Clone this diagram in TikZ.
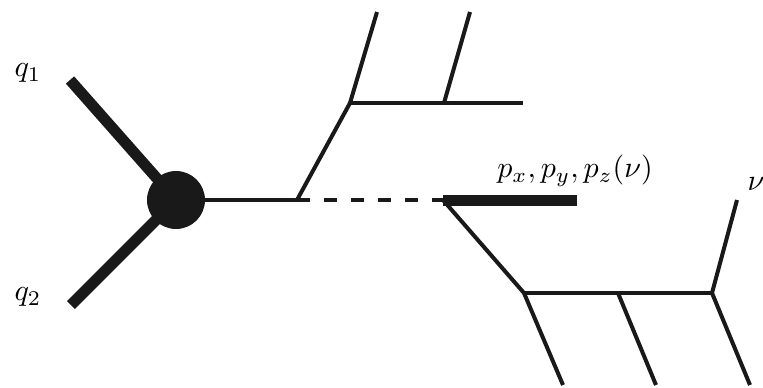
\documentclass[tikz,border=0pt]{standalone}
\begin{document}
\begin{tikzpicture}[x=1pt,y=-1pt,
  thin line/.style={line width=4pt, black!90},
  thick line/.style={line width=11pt, black!90},
  lbl/.style={inner sep=0pt, scale=3}]
\useasboundingbox (0,0) rectangle (763,388);
% coordinates
\node[circle, fill=black!90, minimum size=58pt, inner sep=0pt] (blob) at (176,200) {};
\coordinate (q1e) at (70,80);
\coordinate (q2e) at (71,305);
\coordinate (j1) at (297,200);
\coordinate (j2) at (443,200);
\coordinate (dstart) at (310,200);
\coordinate (u1) at (350,103);
\coordinate (u1t) at (377,12);
\coordinate (u2) at (444,103);
\coordinate (u2t) at (470,12);
\coordinate (uend) at (523,103);
\coordinate (pend) at (577,200);
\coordinate (l1) at (524,293);
\coordinate (l2) at (618,293);
\coordinate (l3) at (712,293);
\coordinate (l1b) at (563,385);
\coordinate (l2b) at (656,385);
\coordinate (l3b) at (750,385);
\coordinate (nut) at (737,200);
% incoming
\draw[thick line] (q1e) -- (blob.center);
\draw[thick line] (q2e) -- (blob.center);
% outgoing
\draw[thin line] (blob.center) -- (dstart);
\draw[thin line, dash pattern=on 13pt off 14pt, dash phase=-14pt] (dstart) -- (j2);
\draw[thin line, line join=miter] (j1) -- (u1) -- (u1t);
\draw[thin line] (u1) -- (uend);
\draw[thin line] (u2) -- (u2t);
\draw[thick line] (j2) -- (pend);
\draw[thin line, line join=miter] (j2) -- (l1) -- (l1b);
\draw[thin line] (l1) -- (l3);
\draw[thin line] (l2) -- (l2b);
\draw[thin line] (l3) -- (l3b);
\draw[thin line] (l3) -- (nut);
% labels
\node[lbl] (lq1) at (28,73) {$q_1$};
\node[lbl] (lq2) at (28,297) {$q_2$};
\node[lbl] (lp) at (575,171) {$p_x,p_y,p_z(\nu)$};
\node[lbl, anchor=west] (lnu) at (747,184) {$\nu$};
\end{tikzpicture}
\end{document}
